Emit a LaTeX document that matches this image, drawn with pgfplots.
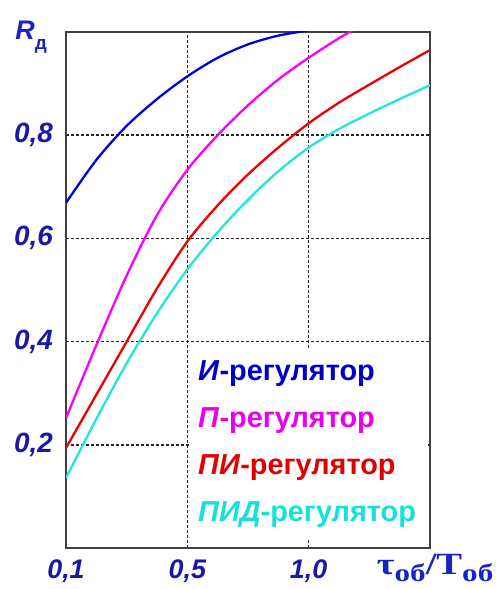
\documentclass[border=0pt]{standalone}
\usepackage{fontspec}
\setmainfont{Liberation Sans}
\newfontfamily\serifbf{Liberation Serif}
\usepackage{pgfplots}
\pgfplotsset{compat=1.18}
\definecolor{tickblue}{RGB}{25,25,165}
\definecolor{labblue}{RGB}{25,35,195}
\definecolor{cI}{RGB}{0,0,230}
\definecolor{cP}{RGB}{250,0,250}
\definecolor{cPI}{RGB}{238,0,0}
\definecolor{cPID}{RGB}{35,230,215}
\definecolor{tI}{RGB}{0,0,205}
\definecolor{tP}{RGB}{235,0,235}
\definecolor{tPI}{RGB}{225,0,0}
\definecolor{tPID}{RGB}{20,225,220}
\begin{document}
\begin{tikzpicture}
\path[use as bounding box] (-66bp,-41bp) rectangle (436bp,548bp);
\begin{axis}[
  scale only axis, width=364bp, height=516bp,
  xmin=0, xmax=3, ymin=0, ymax=1,
  xtick={0,1,2}, xticklabels={{0,1},{0,5},{1,0}},
  ytick={0.2,0.4,0.6,0.8}, yticklabels={{0,2},{0,4},{0,6},{0,8}},
  major tick length=0pt,
  grid=major,
  major grid style={black!85, line width=1.5bp, dash pattern=on 2.5bp off 2.5bp},
  axis line style={draw=black!75, line width=1.6bp},
  tick label style={text=tickblue, inner sep=0pt},
  yticklabel style={font=\fontsize{28}{28}\selectfont\bfseries\itshape, xshift=-13bp},
  xticklabel style={font=\fontsize{27}{27}\selectfont\bfseries\itshape, yshift=-12bp},
  xlabel={\scalebox{1.25}[1]{\serifbf\bfseries\fontsize{31}{31}\selectfont τ\raisebox{-7bp}{\fontsize{25}{25}\selectfont об}/T\raisebox{-7bp}{\fontsize{25}{25}\selectfont об}}},
  xlabel style={at={(axis description cs:1.014,0)}, anchor=base, yshift=-26bp, text=labblue, inner sep=0pt},
  ylabel={\bfseries\itshape\fontsize{27}{27}\selectfont R\raisebox{-10bp}{\upshape\fontsize{19}{19}\selectfont д}},
  ylabel style={rotate=-90, at={(axis description cs:-0.096,0.986)}, anchor=base, text=labblue, inner sep=0pt},
  legend image code/.code={},
  legend cell align=left,
  legend style={at={(rel axis cs:0.338,0.0155)}, anchor=south west, draw=none, fill=white,
    inner xsep=9bp, inner ysep=12bp, row sep=20bp,
    font=\fontsize{29}{29}\selectfont\bfseries,
    nodes={inner sep=0pt, text height=21bp, text depth=6bp}},
]
\addplot[cI, line width=2.3bp, smooth] coordinates {(0,0.669)(0.25,0.752)(0.5,0.818)(0.75,0.870)(1,0.914)(1.25,0.950)(1.5,0.976)(1.75,0.993)(2,1.003)};
\addlegendentry{\textcolor{tI}{\textit{И}-регулятор}}
\addplot[cP, line width=2.3bp, smooth] coordinates {(0,0.252)(0.25,0.393)(0.5,0.528)(0.75,0.645)(1,0.733)(1.25,0.800)(1.5,0.858)(1.75,0.908)(2,0.950)(2.25,0.988)(2.5,1.022)};
\addlegendentry{\textcolor{tP}{\textit{П}-регулятор}}
\addplot[cPI, line width=2.3bp, smooth] coordinates {(0,0.194)(0.25,0.297)(0.5,0.400)(0.75,0.503)(1,0.594)(1.25,0.664)(1.5,0.724)(1.75,0.776)(2,0.823)(2.25,0.863)(2.5,0.898)(2.75,0.932)(3,0.965)};
\addlegendentry{\textcolor{tPI}{\textit{ПИ}-регулятор}}
\addplot[cPID, line width=2.3bp, smooth] coordinates {(0,0.136)(0.25,0.250)(0.5,0.358)(0.75,0.455)(1,0.540)(1.25,0.612)(1.5,0.675)(1.75,0.730)(2,0.776)(2.25,0.812)(2.5,0.842)(2.75,0.870)(3,0.897)};
\addlegendentry{\textcolor{tPID}{\textit{ПИД}-регулятор}\hspace*{3.5bp}}
\end{axis}
\end{tikzpicture}
\end{document}
